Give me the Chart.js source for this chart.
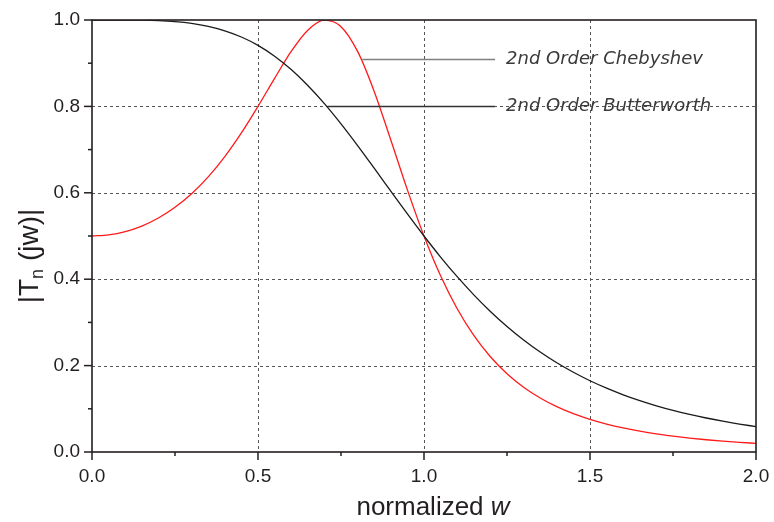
<!DOCTYPE html>
<html>
<head>
<meta charset="utf-8">
<script src="https://cdn.jsdelivr.net/npm/chart.js@4"></script>
<style>
  html, body { margin: 0; padding: 0; background: #fff; }
  #wrap { width: 774px; height: 522px; }
</style>
</head>
<body>
<div id="wrap"><canvas id="grafico" width="774" height="522"></canvas></div>
<script>
  // Dati
  var xValues = [0, 0.05, 0.1, 0.15, 0.2, 0.25, 0.3, 0.35, 0.4, 0.45, 0.5, 0.55, 0.6, 0.65, 0.7, 0.75, 0.8, 0.85, 0.9, 0.95,
    1.0, 1.05, 1.1, 1.15, 1.2, 1.25, 1.3, 1.35, 1.4, 1.45, 1.5, 1.55, 1.6, 1.65, 1.7, 1.75, 1.8, 1.85, 1.9, 1.95, 2.0];
  var butterworth = [1.0, 1.0, 0.9999, 0.9995, 0.9984, 0.9961, 0.992, 0.9852, 0.975, 0.9606, 0.9412, 0.9162, 0.8853, 0.8485, 0.8064, 0.7596, 0.7094, 0.657, 0.6038, 0.5511,
    0.5, 0.4513, 0.4058, 0.3638, 0.3254, 0.2906, 0.2593, 0.2314, 0.2065, 0.1845, 0.1649, 0.1477, 0.1324, 0.1189, 0.1069, 0.0963, 0.087, 0.0787, 0.0713, 0.0647, 0.0588];
  var chebyshev = [0.5, 0.5025, 0.5101, 0.523, 0.5416, 0.5664, 0.5979, 0.6369, 0.6838, 0.7385, 0.8, 0.865, 0.9273, 0.9765, 0.9996, 0.9846, 0.9273, 0.8347, 0.7224, 0.6068,
    0.5, 0.4078, 0.3315, 0.2698, 0.2205, 0.1813, 0.15, 0.1251, 0.105, 0.0887, 0.0755, 0.0646, 0.0556, 0.0482, 0.0419, 0.0367, 0.0322, 0.0284, 0.0252, 0.0224, 0.02];
  var xTicks = [0, 0.5, 1.0, 1.5, 2.0];
  var yTicks = [0, 0.2, 0.4, 0.6, 0.8, 1.0];
  var xMinorTicks = [0.25, 0.75, 1.25, 1.75];
  var yMinorTicks = [0.1, 0.3, 0.5, 0.7, 0.9];

  // Etichette delle curve (in coordinate dei dati)
  var etichette = [
    { testo: '2nd Order Chebyshev', x0: 0.814, x1: 1.214, y: 0.91, colore: '#808080' },
    { testo: '2nd Order Butterworth', x0: 0.709, x1: 1.214, y: 0.8, colore: '#333333' }
  ];

  var inchiostro = '#231f20';

  function punti(valori) {
    return xValues.map(function (x, i) { return { x: x, y: valori[i] }; });
  }

  // Plugin per griglia, cornice, tacche e titoli degli assi
  var assiOrigin = {
    id: 'assiOrigin',
    beforeDatasetsDraw: function (chart) {
      var ctx = chart.ctx, a = chart.chartArea;
      var sx = chart.scales.x, sy = chart.scales.y;
      ctx.save();
      ctx.lineWidth = 1;
      ctx.strokeStyle = '#555';
      ctx.setLineDash([3, 3]);
      xTicks.forEach(function (v) {
        if (v === 0 || v === 2) return;
        var px = Math.round(sx.getPixelForValue(v)) + 0.5;
        ctx.beginPath(); ctx.moveTo(px, a.top); ctx.lineTo(px, a.bottom); ctx.stroke();
      });
      yTicks.forEach(function (v) {
        if (v === 0 || v === 1) return;
        var py = Math.round(sy.getPixelForValue(v)) + 0.5;
        ctx.beginPath(); ctx.moveTo(a.left, py); ctx.lineTo(a.right, py); ctx.stroke();
      });
      ctx.restore();
    },
    afterDatasetsDraw: function (chart) {
      var ctx = chart.ctx, a = chart.chartArea;
      var sx = chart.scales.x, sy = chart.scales.y;
      ctx.save();
      ctx.strokeStyle = inchiostro;
      ctx.lineWidth = 1.6;
      ctx.strokeRect(a.left, a.top, a.right - a.left, a.bottom - a.top);
      ctx.lineWidth = 1.5;
      function tacca(x1, y1, x2, y2) {
        ctx.beginPath(); ctx.moveTo(x1, y1); ctx.lineTo(x2, y2); ctx.stroke();
      }
      xTicks.forEach(function (v) { var px = sx.getPixelForValue(v); tacca(px, a.bottom, px, a.bottom + 8); });
      xMinorTicks.forEach(function (v) { var px = sx.getPixelForValue(v); tacca(px, a.bottom, px, a.bottom + 4); });
      yTicks.forEach(function (v) { var py = sy.getPixelForValue(v); tacca(a.left - 8, py, a.left, py); });
      yMinorTicks.forEach(function (v) { var py = sy.getPixelForValue(v); tacca(a.left - 4, py, a.left, py); });

      // Etichette delle curve
      etichette.forEach(function (e) {
        var py = Math.round(sy.getPixelForValue(e.y)) + 0.5;
        ctx.strokeStyle = e.colore;
        ctx.lineWidth = 1.3;
        tacca(sx.getPixelForValue(e.x0), py, sx.getPixelForValue(e.x1), py);
        ctx.fillStyle = '#3a3a3a';
        ctx.font = 'italic 18px "DejaVu Sans"';
        ctx.textBaseline = 'middle';
        ctx.textAlign = 'left';
        ctx.fillText(e.testo, sx.getPixelForValue(e.x1) + 11, py);
      });

      // Titolo asse x
      ctx.fillStyle = inchiostro;
      ctx.textBaseline = 'middle';
      ctx.textAlign = 'left';
      ctx.font = '26px "Liberation Sans"';
      var t1 = 'normalized ';
      var w1 = ctx.measureText(t1).width;
      ctx.font = 'italic 26px "Liberation Sans"';
      var w2 = ctx.measureText('w').width;
      var cx = 433 - (w1 + w2) / 2;
      ctx.font = '26px "Liberation Sans"';
      ctx.fillText(t1, cx, 508);
      ctx.font = 'italic 26px "Liberation Sans"';
      ctx.fillText('w', cx + w1, 508);

      // Titolo asse y con pedice
      ctx.translate(30, 256);
      ctx.rotate(-Math.PI / 2);
      ctx.font = '28px "Liberation Sans"';
      var pa = '|T', pc = ' (jw)|';
      var wa = ctx.measureText(pa).width, wc = ctx.measureText(pc).width;
      ctx.font = '18px "Liberation Sans"';
      var wb = ctx.measureText('n').width;
      var sx0 = -(wa + wb + wc) / 2;
      ctx.font = '28px "Liberation Sans"';
      ctx.fillText(pa, sx0, 0);
      ctx.font = '18px "Liberation Sans"';
      ctx.fillText('n', sx0 + wa, 8);
      ctx.font = '28px "Liberation Sans"';
      ctx.fillText(pc, sx0 + wa + wb, 0);
      ctx.restore();
    }
  };

  var dati = {
    datasets: [{
      label: '2nd Order Butterworth',
      data: punti(butterworth),
      borderColor: '#1a1a1a',
      borderWidth: 1.3
    }, {
      label: '2nd Order Chebyshev',
      data: punti(chebyshev),
      borderColor: '#ff1a1a',
      borderWidth: 1.3
    }]
  };

  var opzioni = {
    responsive: false,
    animation: false,
    layout: { padding: { left: 0, right: 18, top: 20, bottom: 0 } },
    elements: {
      point: { radius: 0 },
      line: { cubicInterpolationMode: 'monotone', fill: false }
    },
    plugins: { legend: { display: false }, tooltip: { enabled: false } },
    scales: {
      x: {
        type: 'linear', min: 0, max: 2,
        afterBuildTicks: function (s) { s.ticks = xTicks.map(function (v) { return { value: v }; }); },
        afterFit: function (s) { s.height = 70; s.paddingLeft = 0; s.paddingRight = 0; },
        grid: { display: false, drawTicks: false },
        border: { display: false },
        ticks: {
          padding: 13, color: inchiostro,
          font: { family: '"Liberation Sans"', size: 19 },
          maxRotation: 0,
          callback: function (v) { return Number(v).toFixed(1); }
        }
      },
      y: {
        type: 'linear', min: 0, max: 1,
        afterBuildTicks: function (s) { s.ticks = yTicks.map(function (v) { return { value: v }; }); },
        afterFit: function (s) { s.width = 92; s.paddingTop = 0; s.paddingBottom = 0; },
        grid: { display: false, drawTicks: false },
        border: { display: false },
        ticks: {
          padding: 12, color: inchiostro,
          font: { family: '"Liberation Sans"', size: 19 },
          callback: function (v) { return Number(v).toFixed(1); }
        }
      }
    }
  };

  var grafico = new Chart(document.getElementById('grafico').getContext('2d'), {
    type: 'line',
    data: dati,
    options: opzioni,
    plugins: [assiOrigin]
  });
</script>
</body>
</html>
